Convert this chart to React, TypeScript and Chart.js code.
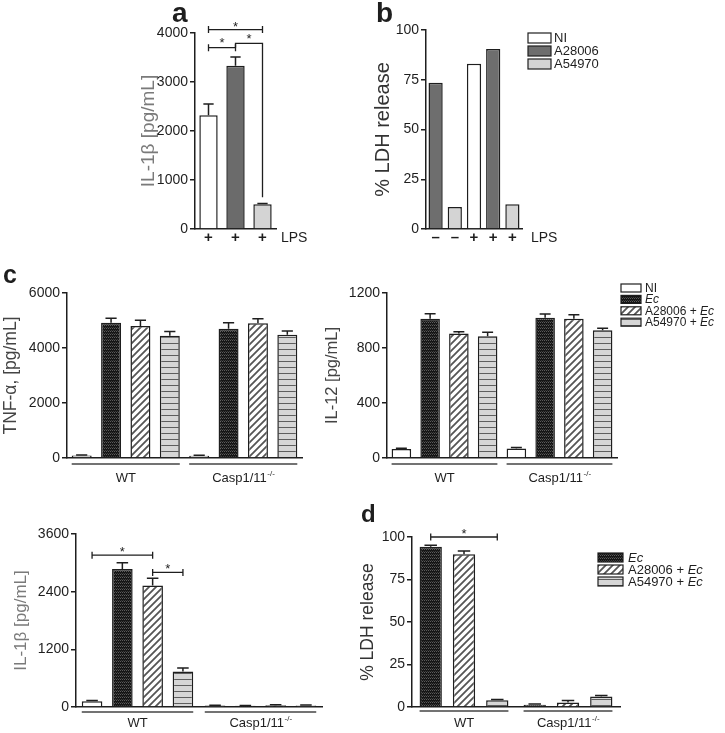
import React, { useEffect, useRef } from 'react';
import { Chart, registerables } from 'chart.js';

Chart.register(...registerables);

const FONT = "'Liberation Sans', Arial, Helvetica, sans-serif";
const INK = '#1e1e1e';

// ---------------- data ----------------
// panel a
const aTicks = ['+', '+', '+'];
const aValues = [2320, 3330, 505];
const aErrors = [230, 180, 15];

// panel b
const bTicks = ['–', '–', '+', '+', '+'];
const bNI = [null, null, 83, null, null];
const bA28006 = [73.5, null, null, 90.5, null];
const bA54970 = [null, 11, null, null, 12.5];

// panels c / d
const groupNames = ['WT', 'Casp1/11'];
const groupSups = ['', '-/-'];

const tnfNI = [90, 85];
const tnfNIErr = [20, 15];
const tnfEc = [4920, 4700];
const tnfEcErr = [160, 220];
const tnfA28006 = [4800, 4900];
const tnfA28006Err = [210, 160];
const tnfA54970 = [4450, 4480];
const tnfA54970Err = [150, 140];

const il12NI = [65, 70];
const il12NIErr = [6, 6];
const il12Ec = [1012, 1020];
const il12EcErr = [38, 28];
const il12A28006 = [905, 1012];
const il12A28006Err = [14, 30];
const il12A54970 = [885, 930];
const il12A54970Err = [30, 14];

const il1bNI = [120, 30];
const il1bNIErr = [15, 8];
const il1bEc = [2870, 25];
const il1bEcErr = [130, 8];
const il1bA28006 = [2530, 35];
const il1bA28006Err = [150, 10];
const il1bA54970 = [740, 32];
const il1bA54970Err = [70, 8];

const ldhEc = [94.3, 1.3];
const ldhEcErr = [0.8, 0.5];
const ldhA28006 = [89.8, 2.6];
const ldhA28006Err = [2, 1.2];
const ldhA54970 = [3.9, 6.2];
const ldhA54970Err = [0.5, 0.5];

// ---------------- patterns ----------------
function tile(w: number, h: number, draw: (g: CanvasRenderingContext2D) => void) {
  const c = document.createElement('canvas');
  c.width = w;
  c.height = h;
  const g = c.getContext('2d')!;
  draw(g);
  return g.createPattern(c, 'repeat')!;
}

function makePatterns() {
  const ec = tile(4, 3, (g) => {
    g.fillStyle = '#161616';
    g.fillRect(0, 0, 4, 3);
    g.fillStyle = '#5c5c5c';
    g.fillRect(0, 0, 1, 1);
    g.fillRect(2, 0, 1, 1);
    g.fillStyle = '#3c3c3c';
    g.fillRect(1, 2, 1, 1);
    g.fillRect(3, 2, 1, 1);
  });
  const stripes = tile(7, 7, (g) => {
    g.fillStyle = '#ffffff';
    g.fillRect(0, 0, 7, 7);
    g.strokeStyle = '#555555';
    g.lineWidth = 1.8;
    g.beginPath();
    g.moveTo(-1, 8);
    g.lineTo(8, -1);
    g.moveTo(-1, 1);
    g.lineTo(1, -1);
    g.moveTo(6, 8);
    g.lineTo(8, 6);
    g.stroke();
  });
  const hlines = tile(4, 6, (g) => {
    g.fillStyle = '#d6d6d6';
    g.fillRect(0, 0, 4, 6);
    g.fillStyle = '#5e5e5e';
    g.fillRect(0, 0, 4, 1);
  });
  return { ec, stripes, hlines };
}

// ---------------- extras plugin ----------------
function makeExtras(box: any, ex: any) {
  return {
    id: 'figureExtras',
    afterDatasetsDraw(chart: any) {
      const ctx = chart.ctx;
      const ys = chart.scales.y;
      ctx.save();
      ctx.strokeStyle = INK;
      ctx.lineWidth = 1.5;
      chart.data.datasets.forEach((ds: any, di: number) => {
        if (!ds.errors) return;
        const meta = chart.getDatasetMeta(di);
        meta.data.forEach((bar: any, i: number) => {
          const v = ds.data[i];
          const e = ds.errors[i];
          if (v == null || !e) return;
          const top = ys.getPixelForValue(v + e);
          const half = bar.width * 0.28;
          ctx.beginPath();
          ctx.moveTo(bar.x, bar.y);
          ctx.lineTo(bar.x, top);
          ctx.moveTo(bar.x - half, top);
          ctx.lineTo(bar.x + half, top);
          ctx.stroke();
        });
      });
      ctx.restore();
    },
    afterDraw(chart: any) {
      const ctx = chart.ctx;
      const ys = chart.scales.y;
      const xs = chart.scales.x;
      const area = chart.chartArea;
      const barX = (ds: number, i: number) => chart.getDatasetMeta(ds).data[i].x;
      ctx.save();
      ctx.strokeStyle = INK;
      ctx.fillStyle = INK;
      ctx.lineWidth = 1.3;
      const star = (x: number, y: number) => {
        ctx.font = `13px ${FONT}`;
        ctx.textAlign = 'center';
        ctx.textBaseline = 'alphabetic';
        ctx.fillText('*', x, y + 1);
      };
      (ex.brackets || []).forEach((b: any) => {
        const x1 = barX(b.from[0], b.from[1]);
        const x2 = barX(b.to[0], b.to[1]);
        const yy = ys.getPixelForValue(b.value);
        ctx.beginPath();
        ctx.moveTo(x1, yy);
        ctx.lineTo(x2, yy);
        ctx.moveTo(x1, yy - 3.5);
        ctx.lineTo(x1, yy + 3.5);
        ctx.moveTo(x2, yy - 3.5);
        ctx.lineTo(x2, yy + 3.5);
        ctx.stroke();
        star((x1 + x2) / 2, yy - (b.starLift || 0));
      });
      if (ex.path) {
        const pts = ex.path.points.map((p: any) => [barX(p[0], p[1]), ys.getPixelForValue(p[2])]);
        ctx.beginPath();
        pts.forEach((p: any, k: number) => (k ? ctx.lineTo(p[0], p[1]) : ctx.moveTo(p[0], p[1])));
        ctx.stroke();
        const s = ex.path.starSeg;
        star((pts[s][0] + pts[s + 1][0]) / 2, pts[s][1] - 1);
      }
      if (ex.groups) {
        const g = ex.groups;
        xs.ticks.forEach((_t: any, i: number) => {
          let lo = Infinity;
          let hi = -Infinity;
          chart.data.datasets.forEach((ds: any, di: number) => {
            if (ds.data[i] == null) return;
            const bar = chart.getDatasetMeta(di).data[i];
            lo = Math.min(lo, bar.x - bar.width / 2);
            hi = Math.max(hi, bar.x + bar.width / 2);
          });
          ctx.strokeStyle = '#444';
          ctx.lineWidth = 1.5;
          ctx.beginPath();
          ctx.moveTo(lo, area.bottom + g.gap);
          ctx.lineTo(hi, area.bottom + g.gap);
          ctx.stroke();
          const cx = xs.getPixelForValue(i);
          const by = g.baseline - box.top;
          ctx.font = `13px ${FONT}`;
          const w1 = ctx.measureText(g.names[i]).width;
          ctx.font = `8px ${FONT}`;
          const w2 = g.sups[i] ? ctx.measureText(g.sups[i]).width : 0;
          const x0 = cx - (w1 + w2) / 2;
          ctx.fillStyle = INK;
          ctx.textAlign = 'left';
          ctx.textBaseline = 'alphabetic';
          ctx.font = `13px ${FONT}`;
          ctx.fillText(g.names[i], x0, by);
          if (g.sups[i]) {
            ctx.font = `8px ${FONT}`;
            ctx.fillText(g.sups[i], x0 + w1 + 0.5, by - 6);
          }
        });
      }
      if (ex.legend) {
        const L = ex.legend;
        L.items.forEach((it: any, k: number) => {
          const top = L.rowTop - box.top + k * L.rowH;
          const left = L.x - box.left;
          ctx.fillStyle = chart.data.datasets[it.ds].backgroundColor;
          ctx.fillRect(left, top, L.boxW, L.boxH);
          ctx.strokeStyle = INK;
          ctx.lineWidth = 1.2;
          ctx.strokeRect(left, top, L.boxW, L.boxH);
          let tx = L.textX - box.left;
          ctx.fillStyle = INK;
          ctx.textAlign = 'left';
          ctx.textBaseline = 'middle';
          it.parts.forEach((p: any) => {
            ctx.font = `${p[1] ? 'italic ' : ''}${L.size}px ${FONT}`;
            ctx.fillText(p[0], tx, top + L.boxH / 2 + 0.5);
            tx += ctx.measureText(p[0]).width;
          });
        });
      }
      (ex.texts || []).forEach((t: any) => {
        ctx.font = t.font;
        ctx.fillStyle = t.color || INK;
        ctx.textAlign = t.align || 'left';
        ctx.textBaseline = 'alphabetic';
        ctx.fillText(t.text, t.x - box.left, t.y - box.top);
      });
      ctx.restore();
    },
  };
}

// ---------------- config builder ----------------
function buildConfig(box: any, area: any, data: any, y: any, xTicks: any, ex: any) {
  return {
    type: 'bar',
    data,
    options: {
      animation: false,
      responsive: false,
      maintainAspectRatio: false,
      events: [],
      layout: {
        padding: { left: 0, bottom: 0, top: area.t - box.top, right: box.left + box.width - area.r },
      },
      plugins: { legend: { display: false }, tooltip: { enabled: false } },
      scales: {
        x: {
          type: 'category',
          offset: true,
          grid: { display: false },
          border: { display: true, color: INK, width: 1.5 },
          ticks: xTicks,
          afterFit: (s: any) => {
            s.height = box.top + box.height - area.b;
          },
        },
        y: {
          min: 0,
          max: y.max,
          ticks: {
            stepSize: y.step,
            callback: (v: any) => String(v),
            font: { family: FONT, size: 14 },
            color: INK,
            padding: 2,
          },
          grid: {
            display: true,
            drawOnChartArea: false,
            drawTicks: true,
            tickLength: 5,
            color: INK,
            lineWidth: 1.5,
          },
          border: { display: true, color: INK, width: 1.5 },
          title: {
            display: true,
            text: y.title,
            color: y.titleColor,
            font: { family: FONT, size: y.titleSize },
            padding: { top: y.titlePad, bottom: 0 },
          },
          afterFit: (s: any) => {
            s.width = area.l - box.left;
          },
        },
      },
    },
    plugins: [makeExtras(box, ex)],
  };
}

const hiddenTicks = { display: false };
const plusTicks = {
  font: { family: FONT, size: 15, weight: 'bold' },
  color: INK,
  padding: -8,
  autoSkip: false,
  maxRotation: 0,
};

function bar(label: string, values: any, errors: any, fill: any, cp: number, bp: number) {
  return {
    label,
    data: values,
    errors,
    backgroundColor: fill,
    borderColor: INK,
    borderWidth: 1.5,
    categoryPercentage: cp,
    barPercentage: bp,
    skipNull: true,
  };
}

const panels: any[] = [
  {
    id: 'a',
    box: { left: 130, top: 0, width: 240, height: 250 },
    build(box: any) {
      const area = { l: 195, t: 33, r: 276, b: 229 };
      const data = {
        labels: aTicks,
        datasets: [bar('IL-1β', aValues, aErrors, ['#ffffff', '#6b6b6b', '#d4d4d4'], 1, 0.68)],
      };
      return buildConfig(
        box,
        area,
        data,
        { max: 4000, step: 1000, title: 'IL-1β [pg/mL]', titleColor: '#7a7a7a', titleSize: 19, titlePad: 7 },
        plusTicks,
        {
          brackets: [
            { from: [0, 0], to: [0, 2], value: 4070 },
            { from: [0, 0], to: [0, 1], value: 3700, starLift: 2 },
          ],
          path: {
            points: [
              [0, 1, 3700],
              [0, 1, 3790],
              [0, 2, 3790],
              [0, 2, 650],
            ],
            starSeg: 1,
          },
          texts: [
            { text: 'a', x: 172, y: 22, font: `bold 28px ${FONT}` },
            { text: 'LPS', x: 281, y: 242, font: `14px ${FONT}` },
          ],
        }
      );
    },
  },
  {
    id: 'b',
    box: { left: 370, top: 0, width: 355, height: 250 },
    build(box: any) {
      const area = { l: 426, t: 30, r: 522, b: 229 };
      const data = {
        labels: bTicks,
        datasets: [
          bar('NI', bNI, null, '#ffffff', 1, 0.74),
          bar('A28006', bA28006, null, '#6e6e6e', 1, 0.74),
          bar('A54970', bA54970, null, '#d4d4d4', 1, 0.74),
        ],
      };
      return buildConfig(
        box,
        area,
        data,
        { max: 100, step: 25, title: '% LDH release', titleColor: '#333', titleSize: 20, titlePad: 1 },
        plusTicks,
        {
          legend: {
            x: 528,
            rowTop: 33,
            rowH: 13,
            boxW: 23,
            boxH: 10,
            textX: 554,
            size: 13,
            items: [
              { ds: 0, parts: [['NI', false]] },
              { ds: 1, parts: [['A28006', false]] },
              { ds: 2, parts: [['A54970', false]] },
            ],
          },
          texts: [
            { text: 'b', x: 376, y: 22, font: `bold 28px ${FONT}` },
            { text: 'LPS', x: 531, y: 242, font: `14px ${FONT}` },
          ],
        }
      );
    },
  },
  {
    id: 'tnf',
    box: { left: 0, top: 265, width: 320, height: 220 },
    build(box: any, p: any) {
      const area = { l: 67, t: 293, r: 302, b: 458 };
      const data = {
        labels: groupNames,
        datasets: [
          bar('NI', tnfNI, tnfNIErr, '#ffffff', 1, 0.68),
          bar('Ec', tnfEc, tnfEcErr, p.ec, 1, 0.68),
          bar('A28006 + Ec', tnfA28006, tnfA28006Err, p.stripes, 1, 0.68),
          bar('A54970 + Ec', tnfA54970, tnfA54970Err, p.hlines, 1, 0.68),
        ],
      };
      return buildConfig(
        box,
        area,
        data,
        { max: 6000, step: 2000, title: 'TNF-α, [pg/mL]', titleColor: '#444', titleSize: 17.5, titlePad: 1 },
        hiddenTicks,
        {
          groups: { names: groupNames, sups: groupSups, baseline: 482, gap: 6 },
          texts: [{ text: 'c', x: 3, y: 283, font: `bold 25px ${FONT}` }],
        }
      );
    },
  },
  {
    id: 'il12',
    box: { left: 320, top: 265, width: 405, height: 220 },
    build(box: any, p: any) {
      const area = { l: 387, t: 293, r: 617, b: 458 };
      const data = {
        labels: groupNames,
        datasets: [
          bar('NI', il12NI, il12NIErr, '#ffffff', 1, 0.68),
          bar('Ec', il12Ec, il12EcErr, p.ec, 1, 0.68),
          bar('A28006 + Ec', il12A28006, il12A28006Err, p.stripes, 1, 0.68),
          bar('A54970 + Ec', il12A54970, il12A54970Err, p.hlines, 1, 0.68),
        ],
      };
      return buildConfig(
        box,
        area,
        data,
        { max: 1200, step: 400, title: 'IL-12 [pg/mL]', titleColor: '#444', titleSize: 16.5, titlePad: 3 },
        hiddenTicks,
        {
          groups: { names: groupNames, sups: groupSups, baseline: 482, gap: 6 },
          legend: {
            x: 621,
            rowTop: 284,
            rowH: 11.4,
            boxW: 20,
            boxH: 8,
            textX: 645,
            size: 12,
            items: [
              { ds: 0, parts: [['NI', false]] },
              { ds: 1, parts: [['Ec', true]] },
              { ds: 2, parts: [['A28006 + ', false], ['Ec', true]] },
              { ds: 3, parts: [['A54970 + ', false], ['Ec', true]] },
            ],
          },
        }
      );
    },
  },
  {
    id: 'il1b',
    box: { left: 0, top: 505, width: 340, height: 228 },
    build(box: any, p: any) {
      const area = { l: 76, t: 534, r: 322, b: 707 };
      const data = {
        labels: groupNames,
        datasets: [
          bar('NI', il1bNI, il1bNIErr, '#ffffff', 0.985, 0.68),
          bar('Ec', il1bEc, il1bEcErr, p.ec, 0.985, 0.68),
          bar('A28006 + Ec', il1bA28006, il1bA28006Err, p.stripes, 0.985, 0.68),
          bar('A54970 + Ec', il1bA54970, il1bA54970Err, p.hlines, 0.985, 0.68),
        ],
      };
      return buildConfig(
        box,
        area,
        data,
        { max: 3600, step: 1200, title: 'IL-1β [pg/mL]', titleColor: '#7a7a7a', titleSize: 17, titlePad: 11 },
        hiddenTicks,
        {
          groups: { names: groupNames, sups: groupSups, baseline: 727, gap: 5 },
          brackets: [
            { from: [0, 0], to: [2, 0], value: 3160 },
            { from: [2, 0], to: [3, 0], value: 2800 },
          ],
        }
      );
    },
  },
  {
    id: 'd',
    box: { left: 340, top: 495, width: 385, height: 238 },
    build(box: any, p: any) {
      const area = { l: 412, t: 537, r: 620, b: 707 };
      const data = {
        labels: groupNames,
        datasets: [
          bar('Ec', ldhEc, ldhEcErr, p.ec, 0.96, 0.67),
          bar('A28006 + Ec', ldhA28006, ldhA28006Err, p.stripes, 0.96, 0.67),
          bar('A54970 + Ec', ldhA54970, ldhA54970Err, p.hlines, 0.96, 0.67),
        ],
      };
      return buildConfig(
        box,
        area,
        data,
        { max: 100, step: 25, title: '% LDH release', titleColor: '#333', titleSize: 17.5, titlePad: 18 },
        hiddenTicks,
        {
          groups: { names: groupNames, sups: groupSups, baseline: 727, gap: 4 },
          brackets: [{ from: [0, 0], to: [2, 0], value: 100 }],
          legend: {
            x: 598,
            rowTop: 553,
            rowH: 12,
            boxW: 25,
            boxH: 9,
            textX: 628,
            size: 13,
            items: [
              { ds: 0, parts: [['Ec', true]] },
              { ds: 1, parts: [['A28006 + ', false], ['Ec', true]] },
              { ds: 2, parts: [['A54970 + ', false], ['Ec', true]] },
            ],
          },
          texts: [{ text: 'd', x: 361, y: 522, font: `bold 24px ${FONT}` }],
        }
      );
    },
  },
];

function Panel({ spec }: { spec: any }) {
  const ref = useRef<HTMLCanvasElement>(null);
  useEffect(() => {
    const patterns = makePatterns();
    const chart = new Chart(ref.current as any, spec.build(spec.box, patterns) as any);
    return () => chart.destroy();
  }, [spec]);
  const b = spec.box;
  return (
    <canvas
      ref={ref}
      width={b.width}
      height={b.height}
      style={{ position: 'absolute', left: b.left, top: b.top, width: b.width, height: b.height }}
    />
  );
}

export default function App() {
  return (
    <div style={{ position: 'absolute', left: 0, top: 0, width: 725, height: 733, background: '#ffffff', overflow: 'hidden' }}>
      {panels.map((s) => (
        <Panel key={s.id} spec={s} />
      ))}
    </div>
  );
}
